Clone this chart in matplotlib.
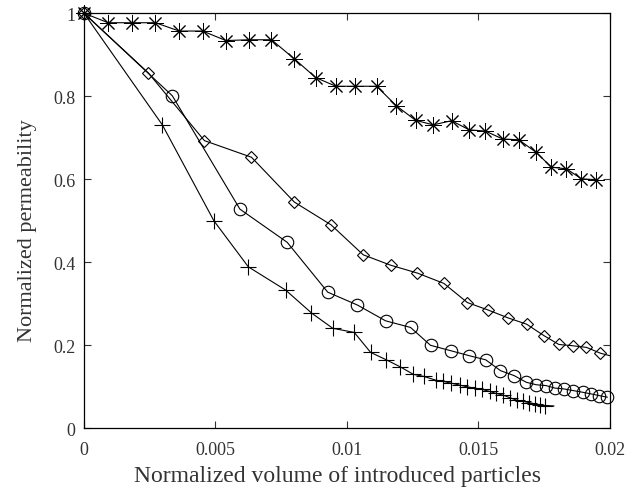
import matplotlib
matplotlib.use("Agg")
import matplotlib.pyplot as plt

# données
x_star = [0, 0.00092, 0.00181, 0.00272, 0.00362, 0.00451, 0.0054, 0.00627, 0.00713,
          0.0080, 0.00881, 0.00958, 0.01031, 0.01113, 0.01188, 0.01261, 0.01328,
          0.01398, 0.01465, 0.01527, 0.01592, 0.01654, 0.01719, 0.01778, 0.01835,
          0.01892, 0.01947]
y_star = [1.0, 0.977, 0.977, 0.977, 0.957, 0.957, 0.934, 0.936, 0.936, 0.890, 0.845,
          0.824, 0.824, 0.824, 0.777, 0.742, 0.731, 0.741, 0.719, 0.716, 0.697, 0.695,
          0.665, 0.629, 0.625, 0.601, 0.599]

x_diam = [0, 0.00245, 0.00458, 0.00637, 0.0080, 0.0094, 0.01062, 0.01166, 0.01268,
          0.01369, 0.01458, 0.01537, 0.01613, 0.01683, 0.0175, 0.01806, 0.01858,
          0.01911, 0.01964, 0.0200]
y_diam = [1.0, 0.856, 0.693, 0.653, 0.545, 0.490, 0.418, 0.393, 0.374, 0.349, 0.303,
          0.285, 0.266, 0.251, 0.223, 0.202, 0.199, 0.195, 0.181, 0.175]

x_circ = [0, 0.00336, 0.00593, 0.00773, 0.00927, 0.0104, 0.01147, 0.01242, 0.01318,
          0.01395, 0.01465, 0.01528, 0.01584, 0.01636, 0.01682, 0.0172, 0.01757,
          0.01791, 0.01825, 0.0186, 0.01896, 0.01928, 0.01959, 0.0199]
y_circ = [1.0, 0.801, 0.528, 0.448, 0.328, 0.297, 0.259, 0.243, 0.200, 0.187, 0.175,
          0.165, 0.139, 0.127, 0.111, 0.105, 0.103, 0.097, 0.095, 0.091, 0.087, 0.083,
          0.079, 0.075]

x_plus = [0, 0.00298, 0.00494, 0.00625, 0.00767, 0.00865, 0.00946, 0.01028, 0.0109,
          0.0115, 0.01203, 0.01253, 0.01293, 0.01338, 0.01366, 0.01395, 0.0143,
          0.01457, 0.01486, 0.01512, 0.01543, 0.01568, 0.01594, 0.01619, 0.01645,
          0.0167, 0.01693, 0.01715, 0.01734, 0.01753, 0.01787]
y_plus = [1.0, 0.731, 0.500, 0.389, 0.333, 0.278, 0.241, 0.231, 0.183, 0.165, 0.148,
          0.130, 0.125, 0.116, 0.113, 0.109, 0.104, 0.100, 0.097, 0.094, 0.089, 0.084,
          0.080, 0.074, 0.068, 0.065, 0.062, 0.059, 0.057, 0.055, 0.054]

x_ticks = [0, 0.005, 0.01, 0.015, 0.02]
x_labels = ["0", "0.005", "0.01", "0.015", "0.02"]
y_ticks = [0, 0.2, 0.4, 0.6, 0.8, 1.0]
y_labels = ["0", "0.2", "0.4", "0.6", "0.8", "1"]

plt.rcParams["font.family"] = ["Liberation Serif", "DejaVu Serif"]

fig = plt.figure(figsize=(6.44, 4.89), dpi=100)
ax = fig.add_axes([0.1304, 0.122, 0.8166, 0.849])

lw = 0.8
ax.plot(x_star, y_star, color="black", lw=lw, marker=(8, 2, 0), ms=12, mew=0.7,
        clip_on=False)
ax.plot(x_diam, y_diam, color="black", lw=lw, marker="D", ms=6.2, mfc="none",
        mew=0.8, markevery=slice(0, len(x_diam) - 1), clip_on=False)
ax.plot(x_circ, y_circ, color="black", lw=lw, marker="o", ms=9, mfc="none", mew=0.8,
        clip_on=False)
ax.plot(x_plus, y_plus, color="black", lw=lw, marker="+", ms=11, mew=0.8,
        markevery=slice(0, len(x_plus) - 1), clip_on=False)

ax.set_xlim(0, 0.02)
ax.set_ylim(0, 1)
ax.set_xticks(x_ticks)
ax.set_xticklabels(x_labels)
ax.set_yticks(y_ticks)
ax.set_yticklabels(y_labels)
ax.tick_params(direction="in", top=True, right=True, length=5, width=0.8,
               labelsize=13, colors="#333333", pad=6)
ax.tick_params(axis="x", pad=9)
for s in ax.spines.values():
    s.set_linewidth(0.9)

ax.set_xlabel("Normalized volume of introduced particles", fontsize=17,
              color="#333333")
ax.set_ylabel("Normalized permeability", fontsize=16, color="#333333")
ax.xaxis.set_label_coords(0.482, -0.088)
ax.yaxis.set_label_coords(-0.090, 0.478)

fig.savefig("out.png", dpi=100)
